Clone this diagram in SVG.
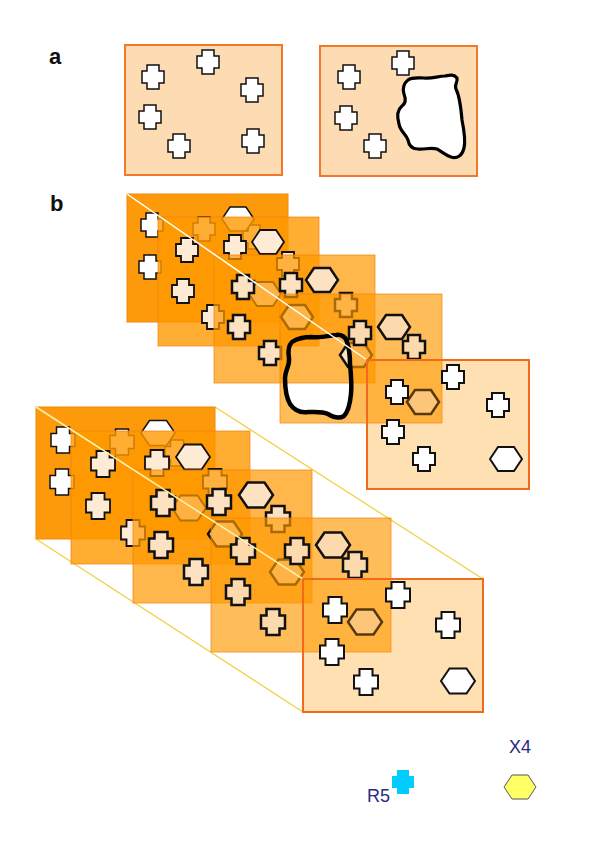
<svg xmlns="http://www.w3.org/2000/svg" xmlns:xlink="http://www.w3.org/1999/xlink" width="600" height="849" viewBox="0 0 600 849">
<style>
.lbl{font-family:"Liberation Sans",Arial,sans-serif;font-weight:bold;font-size:22px;fill:#111}
.leg{font-family:"Liberation Sans",Arial,sans-serif;font-size:18px;fill:#2a2a80}
.pa{fill:#fddcb4;stroke:#f07a2a;stroke-width:2}
.r1{fill:#fc9a0c;stroke:#f08a10;stroke-width:1}
.r2{fill:#ff9900;fill-opacity:0.8;stroke:#f08010;stroke-opacity:0.7;stroke-width:1}
.r3{fill:#ff9900;fill-opacity:0.7;stroke:#f08010;stroke-opacity:0.7;stroke-width:1}
.r4{fill:#ff9900;fill-opacity:0.65;stroke:#f08010;stroke-opacity:0.7;stroke-width:1;fill-rule:evenodd}
.r5{fill:#ff9900;fill-opacity:0.3;stroke:#f26a1b;stroke-width:2}
.s1{fill:#ffffff;stroke:#111;stroke-width:1.5}
.s2{fill:#fdebd5;stroke:#111;stroke-width:1.8}
.s3{fill:#fde2c2;stroke:#111;stroke-width:2.5}
.s4{fill:#fdd9ae;stroke:#111;stroke-width:2.5}
.s5{fill:#ffffff;stroke:#111;stroke-width:2}
.blob{fill:none;stroke:#000;stroke-linejoin:round;stroke-linecap:round}
.wl{stroke:#ffffff;stroke-width:1.5}
.yl{stroke:#f0d03a;stroke-width:1.2}
</style>
<defs>
<path id="cr" d="M-6,-12h12v6h5v12h-5v6h-12v-6h-5v-12h5z"/>
<path id="cb" d="M-6.5,-13h13v6.5h5.5v13h-5.5v6.5h-13v-6.5h-5.5v-13h5.5z"/>
<path id="hx" d="M-16,0L-8,-12H8L16,0L8,12H-8Z"/>
<path id="hb" d="M-17,0L-8.5,-12.5H8.5L17,0L8.5,12.5H-8.5Z"/>
</defs>
<rect width="600" height="849" fill="#ffffff"/>

<text class="lbl" x="49" y="64">a</text>
<text class="lbl" x="50" y="211">b</text>

<g id="panel-a-left">
<rect class="pa" x="125" y="45" width="157" height="130"/>
<use xlink:href="#cr" class="s1" x="208" y="62"/>
<use xlink:href="#cr" class="s1" x="153" y="77"/>
<use xlink:href="#cr" class="s1" x="252" y="90"/>
<use xlink:href="#cr" class="s1" x="150" y="117"/>
<use xlink:href="#cr" class="s1" x="179" y="146"/>
<use xlink:href="#cr" class="s1" x="253" y="141"/>
</g>
<g id="panel-a-right">
<rect class="pa" x="320" y="46" width="157" height="130"/>
<use xlink:href="#cr" class="s1" x="349" y="77"/>
<use xlink:href="#cr" class="s1" x="403" y="63"/>
<use xlink:href="#cr" class="s1" x="346" y="118"/>
<use xlink:href="#cr" class="s1" x="375" y="146"/>
<path class="blob" stroke-width="3.2" style="fill:#ffffff" d="M408,80 C412,77 418,78 424,78 C432,79 438,76 445,76 C450,75 454,74 457,78 C458,82 454,85 456,89 C460,97 461,108 462,120 C464,130 466,140 464,148 C462,156 457,159 451,157 C445,155 441,151 437,149 C430,147 424,150 418,149 C413,149 409,146 408,140 C406,134 400,131 399,124 C397,117 397,110 402,106 C406,103 406,99 404,94 C402,89 404,83 408,80 Z"/>
</g>

<g id="connectors-back">
<line class="wl" x1="288" y1="194" x2="529" y2="360"/>
<line class="wl" x1="127" y1="322" x2="367" y2="489"/>
<line class="yl" x1="215" y1="407" x2="483" y2="579"/>
<line class="yl" x1="36" y1="539" x2="303" y2="712"/>
</g>

<!-- Stack 1 -->
<g id="s1-layer1">
<rect class="r1" x="127" y="194" width="161" height="128"/>
<use xlink:href="#cr" class="s1" x="152" y="225"/>
<use xlink:href="#cr" class="s1" x="150" y="267"/>
<use xlink:href="#cr" class="s1" x="204" y="229"/>
<use xlink:href="#cr" class="s1" x="254" y="237"/>
<use xlink:href="#hx" class="s1" x="238" y="219"/>
</g>
<g id="s1-layer2">
<rect class="r2" x="158" y="217" width="161" height="129"/>
<use xlink:href="#cr" class="s2" x="187" y="250"/>
<use xlink:href="#cr" class="s2" x="235" y="247"/>
<use xlink:href="#cr" class="s2" x="183" y="291"/>
<use xlink:href="#cr" class="s2" x="213" y="317"/>
<use xlink:href="#cr" class="s2" x="288" y="264"/>
<use xlink:href="#hx" class="s2" x="268" y="242"/>
<use xlink:href="#hx" class="s2" x="265" y="294"/>
</g>
<g id="s1-layer3">
<rect class="r3" x="214" y="255" width="161" height="128"/>
<use xlink:href="#cr" class="s3" x="243" y="287"/>
<use xlink:href="#cr" class="s3" x="291" y="285"/>
<use xlink:href="#cr" class="s3" x="239" y="327"/>
<use xlink:href="#cr" class="s3" x="270" y="353"/>
<use xlink:href="#cr" class="s3" x="346" y="305"/>
<use xlink:href="#hx" class="s3" x="322" y="280"/>
<use xlink:href="#hx" class="s3" x="297" y="317"/>
<use xlink:href="#hx" class="s3" x="356" y="355"/>
</g>
<g id="s1-layer4">
<path class="r4" d="M280,294H442V423H280Z M292,342 C298,338 305,337 312,337 C320,338 328,336 336,335 C341,334 346,337 347,342 C349,348 350,356 350,364 C351,374 352,384 351,394 C350,404 348,412 344,416 C339,419 333,417 328,414 C322,411 315,412 308,412 C300,413 294,410 290,404 C286,397 285,388 285,378 C285,370 290,366 289,358 C288,352 288,346 292,342 Z"/>
<use xlink:href="#cr" class="s4" x="360" y="333"/>
<use xlink:href="#cr" class="s4" x="414" y="347"/>
<use xlink:href="#hx" class="s4" x="394" y="327"/>
<use xlink:href="#hx" class="s4" x="423" y="402"/>
<path class="blob" stroke-width="4.5" d="M292,342 C298,338 305,337 312,337 C320,338 328,336 336,335 C341,334 346,337 347,342 C349,348 350,356 350,364 C351,374 352,384 351,394 C350,404 348,412 344,416 C339,419 333,417 328,414 C322,411 315,412 308,412 C300,413 294,410 290,404 C286,397 285,388 285,378 C285,370 290,366 289,358 C288,352 288,346 292,342 Z"/>
</g>
<g id="connectors-front-1">
<line class="wl" x1="127" y1="194" x2="367" y2="360"/>
</g>
<g id="s1-layer5">
<rect class="r5" x="367" y="360" width="162" height="129"/>
<use xlink:href="#cr" class="s5" x="397" y="392"/>
<use xlink:href="#cr" class="s5" x="453" y="377"/>
<use xlink:href="#cr" class="s5" x="498" y="405"/>
<use xlink:href="#cr" class="s5" x="393" y="432"/>
<use xlink:href="#cr" class="s5" x="424" y="459"/>
<use xlink:href="#hx" class="s5" x="506" y="459"/>
</g>

<!-- Stack 2 -->
<g id="s2-layer1">
<rect class="r1" x="36" y="407" width="179" height="132"/>
<use xlink:href="#cb" class="s1" x="63" y="440"/>
<use xlink:href="#cb" class="s1" x="62" y="482"/>
<use xlink:href="#cb" class="s1" x="122" y="442"/>
<use xlink:href="#cb" class="s1" x="177" y="453"/>
<use xlink:href="#hb" class="s1" x="158" y="433"/>
</g>
<g id="s2-layer2">
<rect class="r2" x="71" y="431" width="179" height="133"/>
<use xlink:href="#cb" class="s2" x="103" y="464"/>
<use xlink:href="#cb" class="s2" x="157" y="463"/>
<use xlink:href="#cb" class="s2" x="98" y="506"/>
<use xlink:href="#cb" class="s2" x="133" y="533"/>
<use xlink:href="#cb" class="s2" x="215" y="482"/>
<use xlink:href="#hb" class="s2" x="193" y="457"/>
<use xlink:href="#hb" class="s2" x="189" y="508"/>
</g>
<g id="s2-layer3">
<rect class="r3" x="133" y="470" width="179" height="133"/>
<use xlink:href="#cb" class="s3" x="163" y="503"/>
<use xlink:href="#cb" class="s3" x="219" y="502"/>
<use xlink:href="#cb" class="s3" x="278" y="519"/>
<use xlink:href="#cb" class="s3" x="161" y="545"/>
<use xlink:href="#cb" class="s3" x="196" y="572"/>
<use xlink:href="#hb" class="s3" x="256" y="495"/>
<use xlink:href="#hb" class="s3" x="225" y="534"/>
<use xlink:href="#hb" class="s3" x="287" y="572"/>
</g>
<g id="s2-layer4">
<rect class="r4" x="211" y="518" width="180" height="134"/>
<use xlink:href="#cb" class="s4" x="243" y="551"/>
<use xlink:href="#cb" class="s4" x="297" y="551"/>
<use xlink:href="#cb" class="s4" x="355" y="565"/>
<use xlink:href="#cb" class="s4" x="238" y="592"/>
<use xlink:href="#cb" class="s4" x="273" y="622"/>
<use xlink:href="#hb" class="s4" x="333" y="545"/>
<use xlink:href="#hb" class="s4" x="365" y="622"/>
</g>
<g id="connectors-front-2">
<line stroke="#fff2b0" stroke-width="1.5" x1="36" y1="407" x2="303" y2="579"/>
</g>
<g id="s2-layer5">
<rect class="r5" x="303" y="579" width="180" height="133"/>
<use xlink:href="#cb" class="s5" x="335" y="610"/>
<use xlink:href="#cb" class="s5" x="398" y="595"/>
<use xlink:href="#cb" class="s5" x="448" y="625"/>
<use xlink:href="#cb" class="s5" x="332" y="652"/>
<use xlink:href="#cb" class="s5" x="366" y="682"/>
<use xlink:href="#hb" class="s5" x="458" y="681"/>
</g>

<g id="legend-r5">
<use xlink:href="#cr" fill="#00ccff" x="403" y="782"/>
<text class="leg" x="367" y="802">R5</text>
</g>
<g id="legend-x4">
<use xlink:href="#hx" fill="#ffff66" stroke="#555" stroke-width="1" x="520" y="787"/>
<text class="leg" x="509" y="753">X4</text>
</g>
</svg>
